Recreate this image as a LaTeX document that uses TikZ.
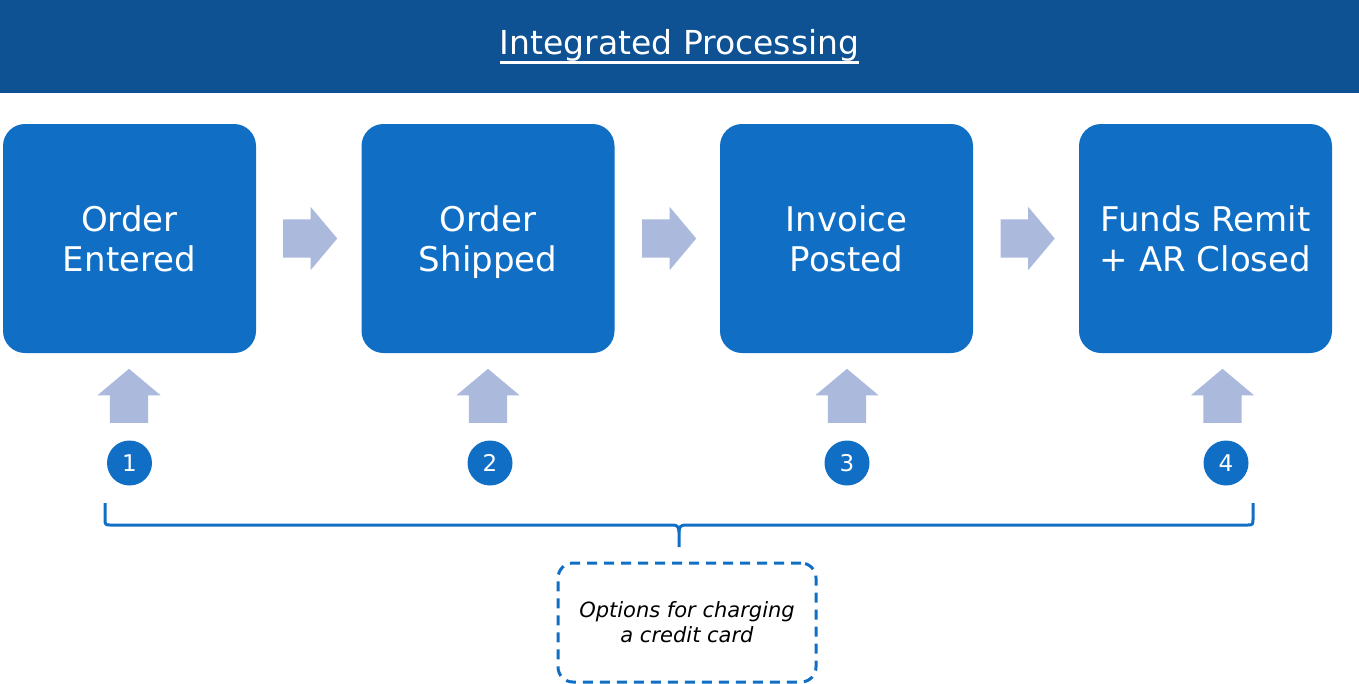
\documentclass[tikz,border=0pt]{standalone}
\usepackage{fontspec}
\setmainfont{DejaVu Sans}
\usetikzlibrary{shapes.arrows}
\definecolor{hdrblue}{RGB}{14,82,148}
\definecolor{boxblue}{RGB}{16,111,196}
\definecolor{arrowblue}{RGB}{171,185,221}
\newcommand{\titleline}[1]{\setbox0=\hbox{#1}\rlap{\vrule height -6.5pt depth 9pt width \wd0}\box0}
\tikzset{
  stepbox/.style={fill=boxblue, text=white, rounded corners=22pt, minimum width=253pt,
    minimum height=229pt, inner sep=0pt, align=center, text depth=0pt,
    font=\fontsize{34}{40}\selectfont},
  flowarrow/.style={single arrow, fill=arrowblue, draw=none, minimum height=54pt,
    minimum width=63pt, single arrow head extend=12.5pt, single arrow tip angle=100,
    inner xsep=0pt, inner ysep=19pt, anchor=tail},
  numdot/.style={circle, fill=boxblue, text=white, minimum size=45pt, inner sep=0pt,
    font=\fontsize{23}{26}\selectfont},
  bracket/.style={draw=boxblue, line width=3pt, line join=round},
  optbox/.style={draw=boxblue, line width=3pt, dash pattern=on 10pt off 7pt, rounded corners=15pt,
    minimum width=258pt, minimum height=119pt, align=center,
    font=\fontsize{21}{25}\selectfont\itshape}
}
\begin{document}
\begin{tikzpicture}[x=1pt, y=-1pt]
    \useasboundingbox (0,0) rectangle (1359,683);
        \node [fill=hdrblue, minimum width=1359pt, minimum height=93pt, inner sep=0pt, text=white,
          font=\fontsize{33}{38}\selectfont] (header) at (679.5,46.5) {\titleline{Integrated Processing}};
        \node [stepbox] (entered) at (129.5,238.5) {Order\\Entered};
        \node [stepbox] (shipped) at (488,238.5) {Order\\Shipped};
        \node [stepbox] (posted) at (846.5,238.5) {Invoice\\Posted};
        \node [stepbox] (closed) at (1205.5,238.5) {Funds Remit\\+ AR Closed};
        \node [flowarrow] (next1) at (283,238.5) {};
        \node [flowarrow] (next2) at (642,238.5) {};
        \node [flowarrow] (next3) at (1000.5,238.5) {};
        \node [flowarrow, rotate=90] (up1) at (129,423) {};
        \node [flowarrow, rotate=90] (up2) at (488,423) {};
        \node [flowarrow, rotate=90] (up3) at (847,423) {};
        \node [flowarrow, rotate=90] (up4) at (1222.5,423) {};
        \node [numdot] (one) at (129.5,463) {1};
        \node [numdot] (two) at (490,463) {2};
        \node [numdot] (three) at (847,463) {3};
        \node [numdot] (four) at (1226,463) {4};
        \coordinate (braceL) at (105,503);
        \coordinate (braceR) at (1253,503);
        \coordinate (braceTip) at (679,547);
        \draw [bracket] (braceL) -- ++(0,16) .. controls ++(0,5) and ++(-5,0) .. ++(5,6) -- (673,525)
          .. controls (677,525) and (679,527) .. (679,532) -- (braceTip);
        \draw [bracket] (braceR) -- ++(0,16) .. controls ++(0,5) and ++(5,0) .. ++(-5,6) -- (685,525)
          .. controls (681,525) and (679,527) .. (679,532);
        \node [optbox] (options) at (687,622.5) {Options for charging\\a credit card};
    \end{tikzpicture}
\end{document}
